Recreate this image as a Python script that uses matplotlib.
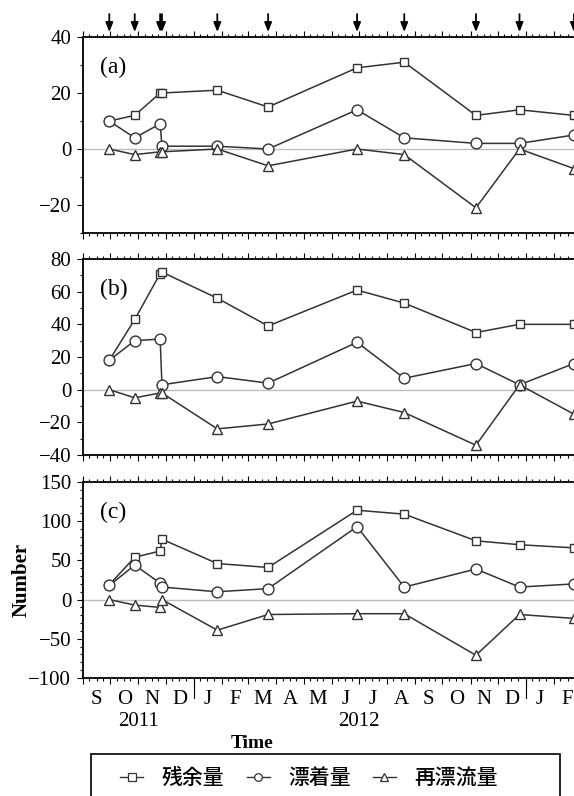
import matplotlib
matplotlib.use('Agg')
import matplotlib.pyplot as plt
import matplotlib.dates as mdates
import pandas as pd
from matplotlib.ticker import MultipleLocator
from matplotlib.transforms import blended_transform_factory
from matplotlib.lines import Line2D
from matplotlib.patches import Rectangle

plt.rcParams['font.family'] = ['Liberation Serif', 'DejaVu Serif']

# ---------------- data ----------------
dates = ['2011-09-30', '2011-10-28', '2011-11-25', '2011-11-27', '2012-01-27',
         '2012-03-23', '2012-06-29', '2012-08-20', '2012-11-07', '2012-12-25',
         '2013-02-23']

residual_a = [10, 12, 20, 20, 21, 15, 29, 31, 12, 14, 12]
stranded_a = [10, 4, 9, 1, 1, 0, 14, 4, 2, 2, 5]
redrift_a = [0, -2, -1, -1, 0, -6, 0, -2, -21, 0, -7]

residual_b = [18, 43, 71, 72, 56, 39, 61, 53, 35, 40, 40]
stranded_b = [18, 30, 31, 3, 8, 4, 29, 7, 16, 3, 16]
redrift_b = [0, -5, -2, -2, -24, -21, -7, -14, -34, 3, -15]

residual_c = [19, 54, 62, 77, 46, 41, 114, 109, 75, 70, 66]
stranded_c = [18, 44, 21, 16, 10, 14, 93, 16, 39, 16, 20]
redrift_c = [0, -7, -10, 0, -39, -19, -18, -18, -71, -19, -24]

month_labels = ['S', 'O', 'N', 'D', 'J', 'F', 'M', 'A', 'M', 'J', 'J', 'A',
                'S', 'O', 'N', 'D', 'J', 'F']
year_labels = ['2011', '2012']
year_label_dates = ['2011-11-01', '2012-07-01']
year_boundaries = ['2012-01-01', '2013-01-01']
panel_labels = ['(a)', '(b)', '(c)']
legend_labels = ['残余量', '漂着量', '再漂流量']
ylims = [(-30, 40), (-40, 80), (-100, 150)]
ymajor = [20, 20, 50]
yminor = [10, 10, 10]
x_start, x_end = '2011-09-01', '2013-03-01'

# ---------------- figure ----------------
W, H = 574, 796
fig = plt.figure(figsize=(W / 100, H / 100), dpi=100)

d = pd.to_datetime(dates)
left = 83 / W
width = (579.4 - 83) / W
tops = [37, 259, 482]
ph = 196

lc = '#333333'
series_style = [dict(marker='s', ms=6.0), dict(marker='o', ms=7.8), dict(marker='^', ms=6.8)]
data = [(residual_a, stranded_a, redrift_a),
        (residual_b, stranded_b, redrift_b),
        (residual_c, stranded_c, redrift_c)]

axes = []
for i in range(3):
    ax = fig.add_axes([left, 1 - (tops[i] + ph) / H, width, ph / H])
    axes.append(ax)
    ax.axhline(0, color='#bdbdbd', lw=1.0, zorder=1)
    for vals, st in zip(data[i], series_style):
        ax.plot(d, vals, color=lc, lw=1.1, marker=st['marker'], ms=st['ms'],
                mfc='white', mec=lc, mew=1.0, zorder=3)
    ax.set_xlim(pd.Timestamp(x_start), pd.Timestamp(x_end))
    ax.set_ylim(*ylims[i])
    ax.yaxis.set_major_locator(MultipleLocator(ymajor[i]))
    ax.yaxis.set_minor_locator(MultipleLocator(yminor[i]))
    ax.xaxis.set_major_locator(mdates.MonthLocator())
    ax.xaxis.set_minor_locator(mdates.DayLocator(bymonthday=[8, 16, 23]))
    ax.tick_params(axis='x', which='both', direction='out', top=True, bottom=True,
                   labelbottom=False, labeltop=False, width=0.8)
    ax.tick_params(axis='x', which='major', length=4.5)
    ax.tick_params(axis='x', which='minor', length=2.5)
    ax.tick_params(axis='y', which='both', direction='out', left=True, right=False,
                   labelsize=15, width=0.8, pad=4)
    ax.tick_params(axis='y', which='major', length=4.5)
    ax.tick_params(axis='y', which='minor', length=2.5)
    for s in ['left', 'top', 'bottom']:
        ax.spines[s].set_linewidth(1.3)
    ax.spines['right'].set_visible(False)
    ax.text(0.034, 0.845, panel_labels[i], transform=ax.transAxes, fontsize=17,
            va='center', ha='left')

# arrows on top of panel (a)
ax_a = axes[0]
trans_a = blended_transform_factory(ax_a.transData, ax_a.transAxes)
for dt in d:
    ax_a.annotate('', xy=(mdates.date2num(dt), 1), xycoords=trans_a,
                  xytext=(0, 16.5), textcoords='offset points',
                  arrowprops=dict(arrowstyle='-|>,head_length=0.55,head_width=0.22',
                                  color='k', lw=1.3, shrinkA=0, shrinkB=3.6),
                  annotation_clip=False)

# month / year labels under panel (c)
ax_c = axes[2]
trans_c = blended_transform_factory(ax_c.transData, ax_c.transAxes)
m0 = pd.Timestamp(x_start)
for k, lab in enumerate(month_labels):
    ms_ = m0 + pd.DateOffset(months=k)
    me_ = m0 + pd.DateOffset(months=k + 1)
    mid = ms_ + (me_ - ms_) / 2
    ax_c.text(mdates.date2num(mid), -0.112, lab, transform=trans_c, fontsize=15,
              ha='center', va='center')
for lab, yd in zip(year_labels, year_label_dates):
    ax_c.text(mdates.date2num(pd.Timestamp(yd)), -0.224, lab, transform=trans_c,
              fontsize=15, ha='center', va='center')
for yb in year_boundaries:
    xb = mdates.date2num(pd.Timestamp(yb))
    ax_c.plot([xb, xb], [0, -0.1], transform=trans_c, color='k', lw=0.8, clip_on=False)

fig.text(252 / W, 1 - 743 / H, 'Time', fontsize=14, fontweight='bold', ha='center', va='center')
fig.text(22 / W, 1 - 580 / H, 'Number', fontsize=15, fontweight='bold', rotation=90,
         ha='center', va='center')

# legend
fig.patches.append(Rectangle((91 / W, -0.02), (560 - 91) / W, 1 - 754 / H + 0.02,
                             transform=fig.transFigure, fill=False, ec='k', lw=1.2))
handles = [Line2D([], [], color=lc, lw=1.0, marker=st['marker'], ms=5.5, mfc='white',
                  mec=lc, mew=0.9) for st in series_style]
fig.legend(handles, legend_labels, loc='center left',
           bbox_to_anchor=(110 / W, 1 - 778 / H), ncol=3, frameon=False, borderpad=0,
           handlelength=1.1, handletextpad=0.9, columnspacing=1.05,
           prop={'family': ['Noto Sans CJK JP', 'DejaVu Sans'], 'size': 15,
                 'weight': 'medium'})

fig.savefig('out.png', dpi=100)
